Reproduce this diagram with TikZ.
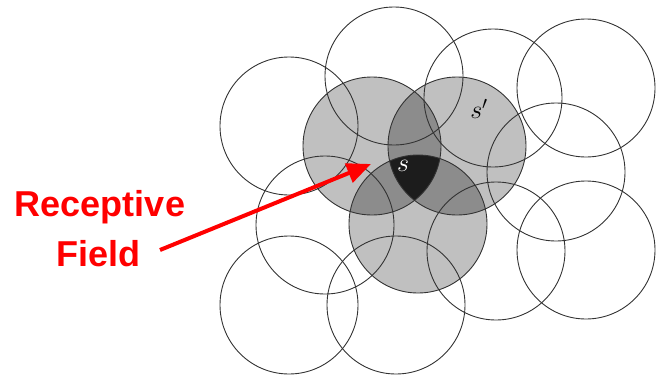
\RequirePackage{fix-cm}
\documentclass[tikz,border=0pt]{standalone}
\usepackage{fontspec}
\newfontfamily\labfont{Liberation Sans}
\usetikzlibrary{arrows.meta}
\definecolor{lightg}{HTML}{C0C0C0}
\definecolor{midg}{HTML}{8C8C8C}
\definecolor{darkg}{HTML}{1C1C1C}
\begin{document}
\begin{tikzpicture}[x=1pt,y=-1pt,
  ring/.style={draw=black!80, line width=0.9pt},
  lab/.style={text=red, font=\labfont\bfseries\fontsize{36}{40}\selectfont, anchor=base, inner sep=0pt},
  var/.style={font=\fontsize{26}{28}\selectfont, inner sep=0pt}]
\useasboundingbox (0,0) rectangle (656,375);
\def\r{69}
\coordinate (A) at (289,126);
\coordinate (B) at (394,76);
\coordinate (C) at (493,98);
\coordinate (D) at (586,88);
\coordinate (L) at (372,146);
\coordinate (R) at (457,146);
\coordinate (M) at (418,224);
\coordinate (E) at (556,172);
\coordinate (F) at (586,250);
\coordinate (G) at (325,225);
\coordinate (H) at (289,305);
\coordinate (I) at (396,305);
\coordinate (J) at (496,251);
% shading
\fill[lightg] (L) circle (\r);
\fill[lightg] (R) circle (\r);
\fill[lightg] (M) circle (\r);
\begin{scope}
  \clip (L) circle (\r);
  \fill[midg] (R) circle (\r);
  \fill[midg] (M) circle (\r);
\end{scope}
\begin{scope}
  \clip (R) circle (\r);
  \fill[midg] (M) circle (\r);
\end{scope}
\begin{scope}
  \clip (L) circle (\r);
  \clip (R) circle (\r);
  \fill[darkg] (M) circle (\r);
\end{scope}
% outlines
\foreach \c in {A,B,C,D,L,R,M,E,F,G,H,I,J}
  \draw[ring] (\c) circle (\r);
% labels
\node[var, text=white] (s) at (403,166) {$s$};
\node[var] (sp) at (479,109) {$s'$};
\node[lab] (rec) at (100,216) {Receptive};
\node[lab] (fld) at (98.5,266) {Field};
\coordinate (tail) at (160,250);
\coordinate (tip) at (371,164);
\draw[red, line width=4pt, -{Triangle[length=24pt,width=20pt]}] (tail) -- (tip);
\end{tikzpicture}
\end{document}
